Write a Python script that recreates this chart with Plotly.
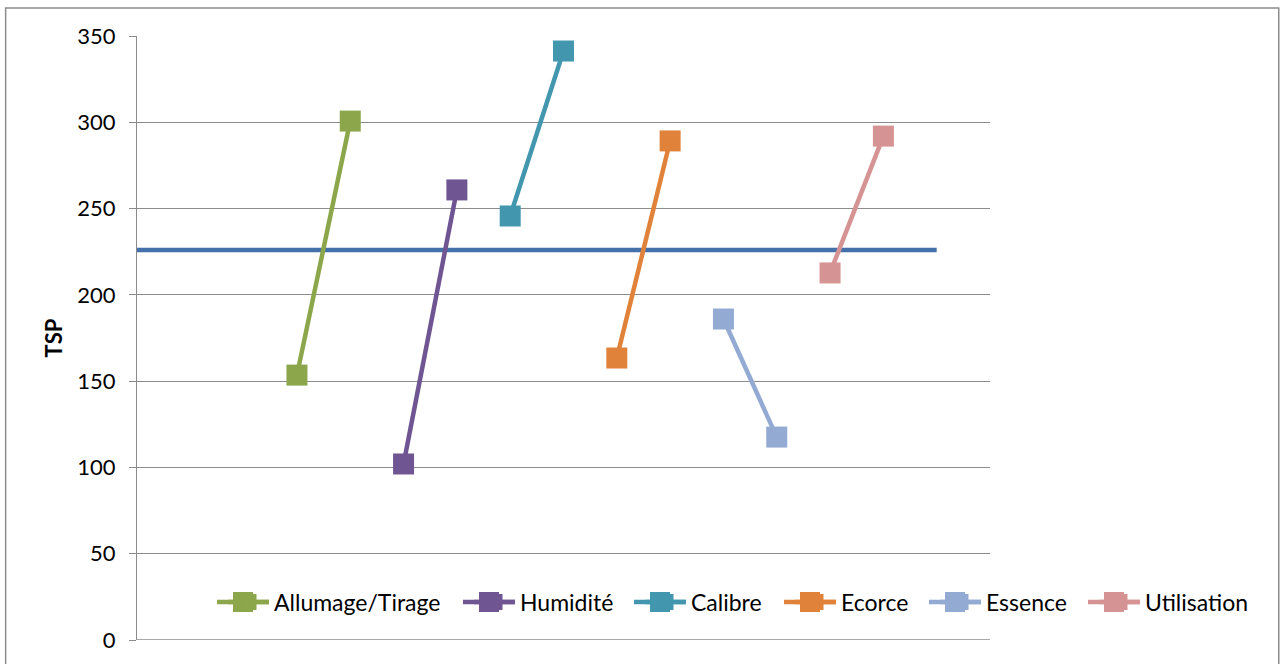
import plotly.graph_objects as go

# Factor names and TSP values at the low / high level of each factor
factors = ["Allumage/Tirage", "Humidité", "Calibre", "Ecorce", "Essence", "Utilisation"]
tsp_first = [153.5, 102, 245.7, 163.4, 186, 212.7]
tsp_second = [300.7, 260.8, 341.3, 289.2, 117.6, 292]
colors = ["#8BA64B", "#6F5592", "#4297AE", "#E0823A", "#93AAD3", "#D59393"]
mean_tsp = 226

# Horizontal placement (pixels) of the start of each legend label
legend_text_px = [274, 520, 691, 841, 986, 1145]

PLOT_L, PLOT_W = 137, 853
PLOT_B, PLOT_H = 640, 604
LEGEND_PY = 602


def px_to_paper(px):
    return (px - PLOT_L) / PLOT_W


def py_to_paper(py):
    return (PLOT_B - py) / PLOT_H


fig = go.Figure()

# Overall mean as a horizontal line across the categories
fig.add_trace(go.Scatter(
    x=[0, 15], y=[mean_tsp, mean_tsp], mode="lines",
    line=dict(color="#4571AA", width=4.5), showlegend=False, hoverinfo="skip",
))

font = "Lato, Carlito, Calibri, sans-serif"
legends = {}
legend_swatches = []
for i, name in enumerate(factors):
    x0 = 3 + 2 * i
    key = "legend" if i == 0 else f"legend{i + 1}"
    fig.add_trace(go.Scatter(
        x=[x0, x0 + 1], y=[tsp_first[i], tsp_second[i]],
        mode="lines+markers", name=name, legend=key,
        line=dict(color=colors[i], width=4.5),
        marker=dict(symbol="square", size=21, color=colors[i]),
    ))
    tx = legend_text_px[i]
    legends[key] = dict(
        x=px_to_paper(tx - 51), y=py_to_paper(LEGEND_PY),
        xanchor="left", yanchor="middle", orientation="h", itemwidth=41,
        font=dict(family=font, size=23), bgcolor="rgba(0,0,0,0)",
    )
    # wider legend sample: longer line and a full-size square marker
    legend_swatches.append(dict(
        type="line", xref="paper", yref="paper",
        x0=px_to_paper(tx - 57), x1=px_to_paper(tx - 5),
        y0=py_to_paper(LEGEND_PY), y1=py_to_paper(LEGEND_PY),
        line=dict(color=colors[i], width=4.5),
    ))
    legend_swatches.append(dict(
        type="rect", xref="paper", yref="paper",
        x0=px_to_paper(tx - 41), x1=px_to_paper(tx - 21),
        y0=py_to_paper(LEGEND_PY + 10), y1=py_to_paper(LEGEND_PY - 10),
        line=dict(width=0), fillcolor=colors[i],
    ))

fig.update_layout(
    width=1282, height=664,
    margin=dict(l=137, r=292, t=36, b=24),
    paper_bgcolor="white", plot_bgcolor="white",
    font=dict(family=font, size=22, color="black"),
    showlegend=True,
    xaxis=dict(
        range=[0, 16], showgrid=False, zeroline=False, showticklabels=False,
        ticks="", showline=False, fixedrange=True,
    ),
    yaxis=dict(
        range=[0, 350], dtick=50, showgrid=True, gridcolor="#8C8C8C", gridwidth=1.3,
        zeroline=False, showline=True, linecolor="#8C8C8C", linewidth=1.3,
        ticks="outside", ticklen=7, tickcolor="#8C8C8C", tickwidth=1.3,
        ticklabelstandoff=9,
        title=dict(text="<b>TSP</b>", font=dict(family=font, size=22), standoff=8),
    ),
    shapes=[
        dict(type="rect", xref="paper", yref="paper",
             x0=-0.154, x1=1.3385, y0=-0.2, y1=1.0464,
             line=dict(color="#8C8C8C", width=1.5), fillcolor="rgba(0,0,0,0)", layer="below"),
        dict(type="line", xref="paper", yref="y", x0=0, x1=1, y0=0, y1=0,
             line=dict(color="#8C8C8C", width=1.3)),
    ] + legend_swatches,
    **legends,
)

fig.write_html("out.html")
